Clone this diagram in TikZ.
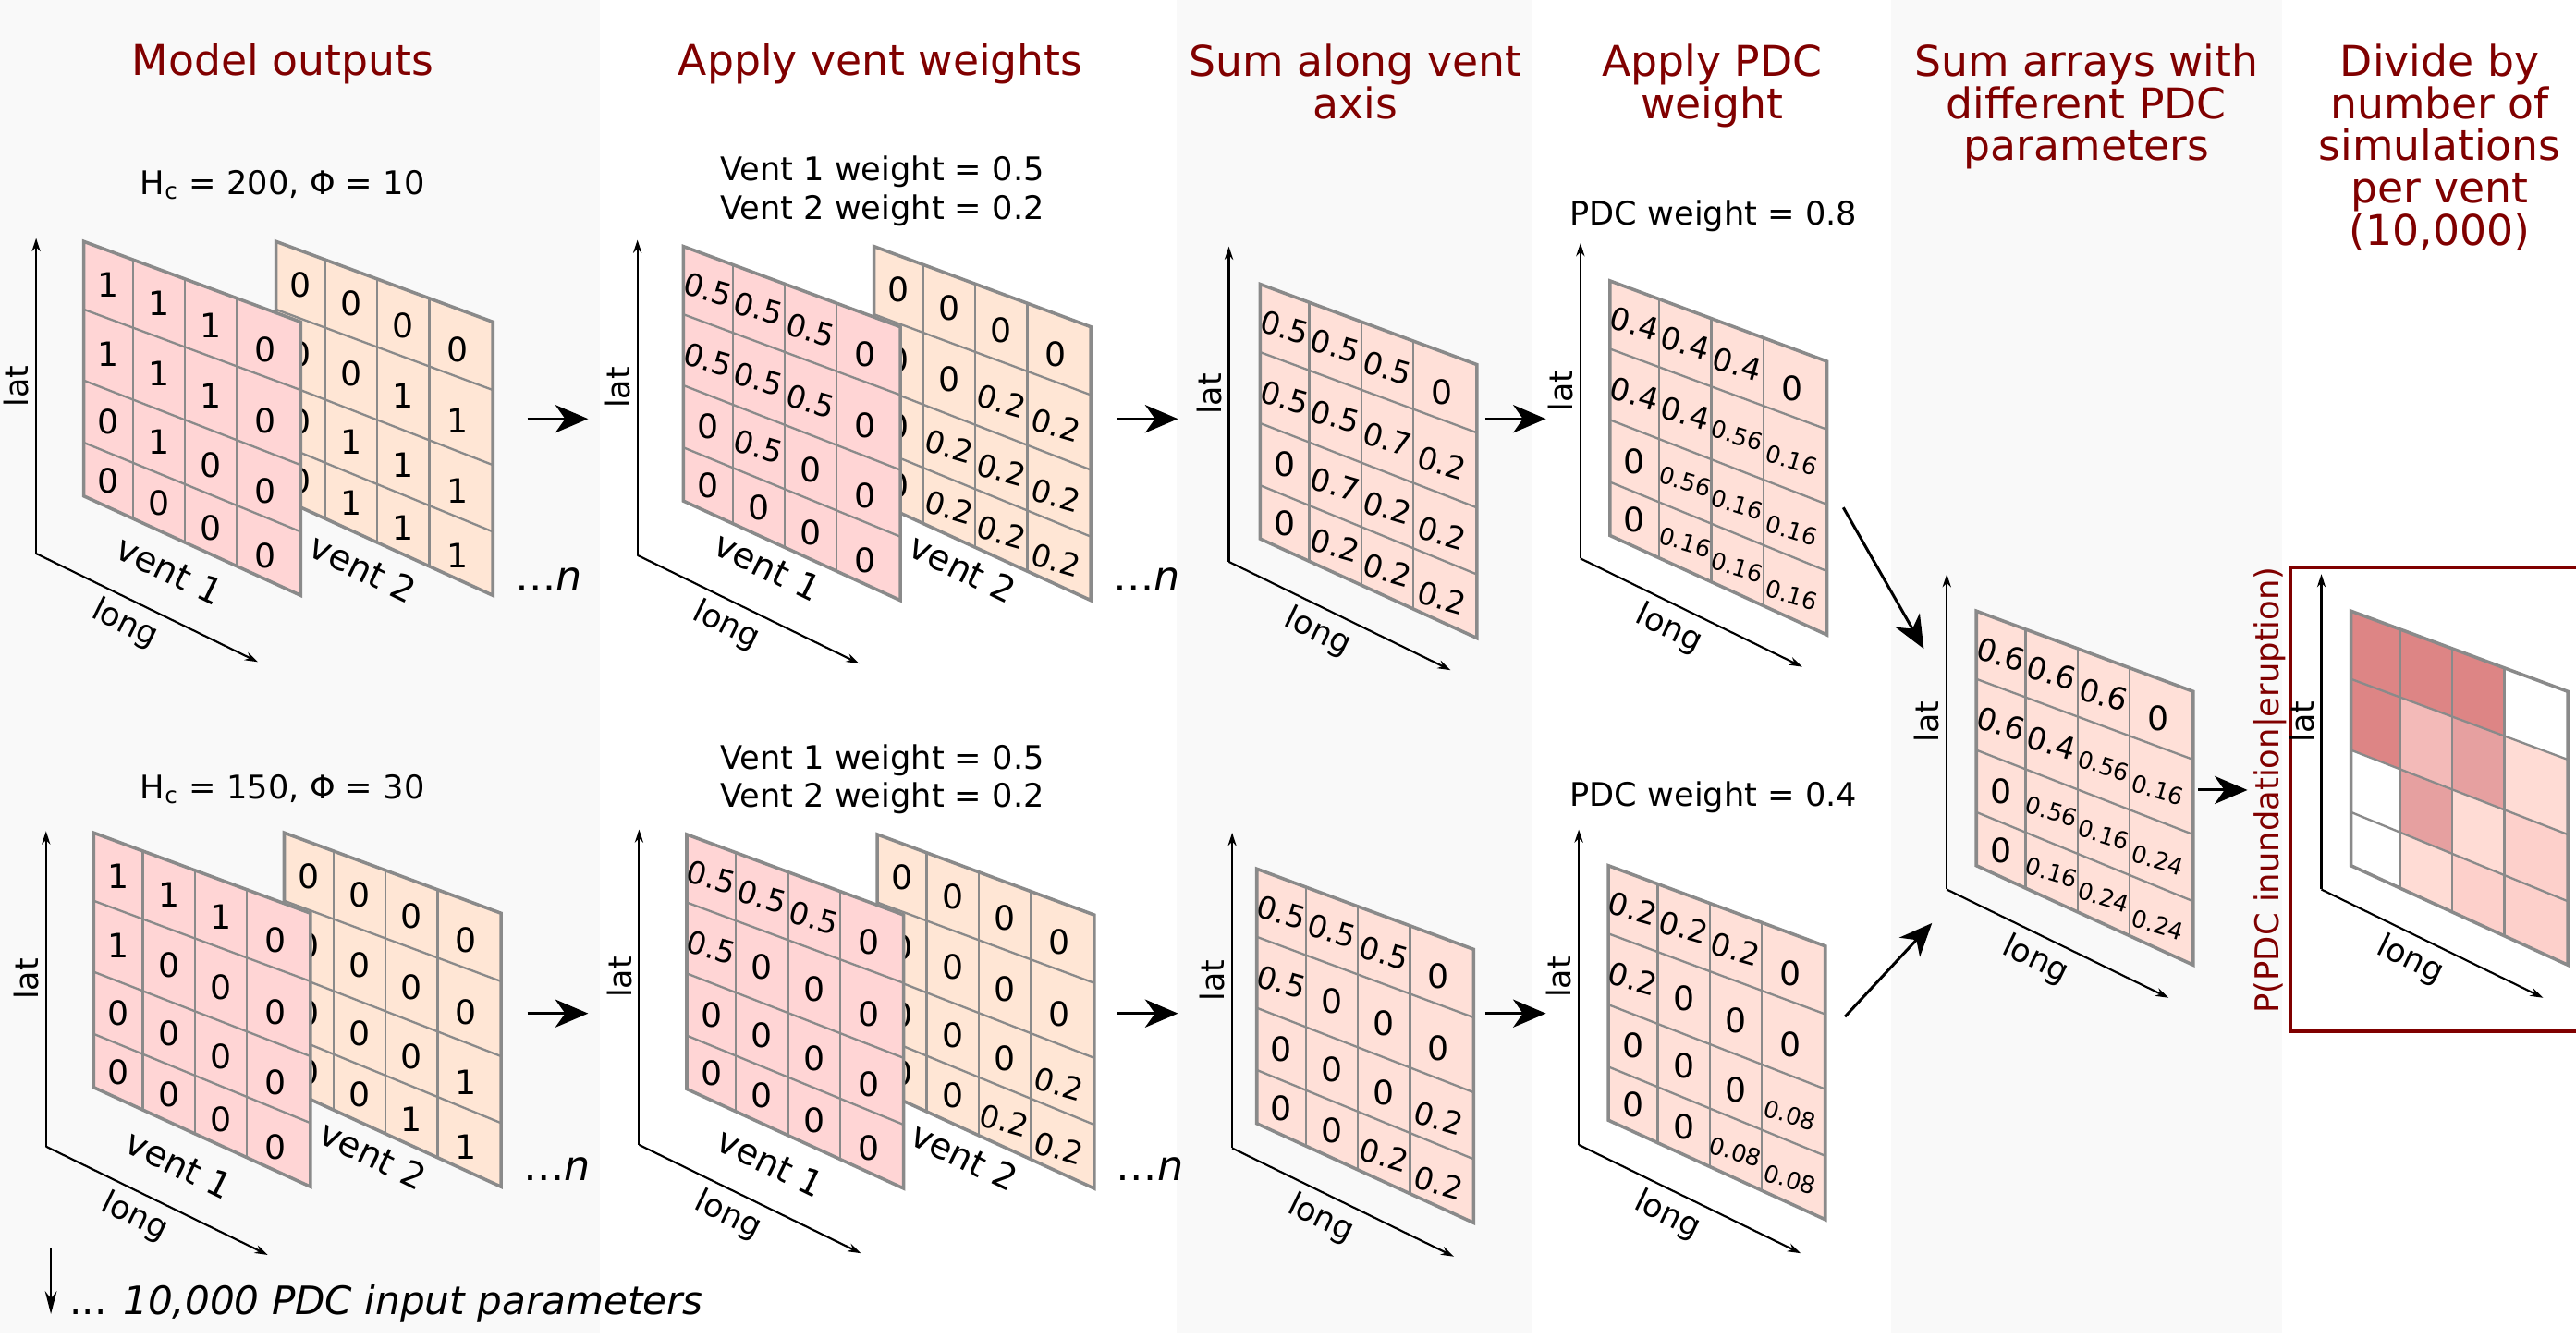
\documentclass[tikz,border=0pt]{standalone}
\usepackage{fontspec}
\setmainfont{DejaVu Sans}
\usetikzlibrary{calc}
\usetikzlibrary{arrows.meta}
\definecolor{darkred}{HTML}{800000}
\definecolor{gridgrey}{HTML}{8A8A8A}
\definecolor{bandgrey}{HTML}{F9F9F9}
\definecolor{ventone}{HTML}{FFD5D5}
\definecolor{venttwo}{HTML}{FFE6D5}
\definecolor{summed}{HTML}{FFE0D8}
\definecolor{heavy}{HTML}{DD8585}
\definecolor{mid}{HTML}{E6A0A0}
\definecolor{pale}{HTML}{F3BAB8}
\definecolor{faint}{HTML}{FDD0CB}
\definecolor{faintest}{HTML}{FFDCD5}
\tikzstyle{title} = [text=darkred, font=\fontsize{12.85}{12.85}\selectfont, align=center, inner sep=0]
\tikzstyle{note} = [font=\fontsize{9.9}{11.7}\selectfont, align=center, inner sep=0]
\tikzstyle{celli} = [font=\fontsize{10.2}{11}\selectfont, inner sep=0]
\tikzstyle{cellb} = [font=\fontsize{9.4}{10}\selectfont, inner sep=0, rotate=-16]
\tikzstyle{cellm} = [font=\fontsize{7.2}{8}\selectfont, inner sep=0, rotate=-17]
\tikzstyle{gridline} = [gridgrey, line width=0.65pt]
\tikzstyle{gridframe} = [gridgrey, line width=1pt, line join=miter]
\tikzstyle{axis} = [line width=0.6pt, -{Stealth[length=4pt,width=2.6pt]}]
\tikzstyle{step arrow} = [line width=0.85pt, -{Stealth[length=10pt,width=8.5pt,inset=3pt]}]
\tikzstyle{lat label} = [font=\fontsize{9.8}{10}\selectfont, rotate=90, inner sep=0]
\tikzstyle{long label} = [font=\fontsize{9.8}{10}\selectfont, inner sep=0, rotate=-26]
\tikzstyle{vent label} = [font=\fontsize{10.8}{11}\selectfont, inner sep=0, rotate=-26]
\tikzstyle{more} = [font=\fontsize{12.5}{13}\selectfont, inner sep=0]

\newcommand{\gridpoints}[3]{
	\foreach \col/\fu in {0/0,1/.227,2/.467,3/.707,4/1}
		\foreach \row/\fl/\fr in {0/0/0,1/.267/.249,2/.546/.523,3/.79/.767,4/1/1}
			\coordinate (#1-\row-\col) at ({#2+132*\fu},{#3+49*\fu+(1-\fu)*155*\fl+\fu*166.5*\fr});
}
\newcommand{\gridlines}[1]{
	\foreach \col in {1,2,3}
		\draw[gridline] (#1-0-\col) -- (#1-4-\col);
	\foreach \row in {1,2,3}
		\draw[gridline] (#1-\row-0) -- (#1-\row-4);
	\draw[gridframe] (#1-0-0) -- (#1-0-4) -- (#1-4-4) -- (#1-4-0) -- cycle;
}
\newcommand{\arraygrid}[5]{
	\gridpoints{#1}{#2}{#3}
	\fill[#4] (#1-0-0) -- (#1-0-4) -- (#1-4-4) -- (#1-4-0) -- cycle;
	\gridlines{#1}
	\foreach \k/\v [count=\i from 0] in {#5} {
		\pgfmathtruncatemacro{\row}{int(\i/4)}
		\pgfmathtruncatemacro{\col}{mod(\i,4)}
		\pgfmathtruncatemacro{\nrow}{\row+1}
		\pgfmathtruncatemacro{\ncol}{\col+1}
		\pgfmathsetmacro{\dx}{\col==3 ? -2 : 0}
		\pgfmathsetmacro{\dy}{\col==3 ? 3 : (\col==2 ? 1.5 : 0)}
		\node[cell\k] (#1-v\row\col) at ($(#1-\row-\col)!0.5!(#1-\nrow-\ncol)+(\dx,\dy)$) {\v};
	}
}
\newcommand{\axes}[3]{
	\coordinate (#1-o) at (#2,#3);
	\coordinate (#1-t) at (#2,{#3-192});
	\coordinate (#1-e) at ({#2+135},{#3+66});
	\draw[axis] (#1-o) -- (#1-t);
	\draw[axis] (#1-o) -- (#1-e);
	\node[lat label] (#1-lat) at ({#2-12},{#3-102}) {lat};
	\node[long label] (#1-long) at ({#2+54},{#3+43}) {long};
}

\begin{document}
\begin{tikzpicture}[x=0.5pt,y=-0.5pt]
	\path[use as bounding box, fill=white] (0,0) rectangle (1568,814.66);
	\foreach \xa/\xb in {0/365,716/933,1151/1389}
		\fill[bandgrey] (\xa,0) rectangle (\xb,811);

	\node[title] (t1) at (172,39) {Model outputs};
	\node[title] (t2) at (536,39) {Apply vent weights};
	\node[title, anchor=north] (t3) at (825,26.5) {Sum along vent\\axis};
	\node[title, anchor=north] (t4) at (1042,26.5) {Apply PDC\\weight};
	\node[title, anchor=north] (t5) at (1270,26.5) {Sum arrays with\\different PDC\\parameters};
	\node[title, anchor=north] (t6) at (1485,26.5) {Divide by\\number of\\simulations\\per vent\\(10,000)};

	\node[note] (hc1) at (172,112.5) {H\textsubscript{c} = 200, Φ = 10};
	\node[note] (hc2) at (172,480.5) {H\textsubscript{c} = 150, Φ = 30};
	\node[note] (w1) at (537,116.5) {Vent 1 weight = 0.5\\Vent 2 weight = 0.2};
	\node[note] (w2) at (537,474.5) {Vent 1 weight = 0.5\\Vent 2 weight = 0.2};
	\node[note] (p1) at (1043,131.5) {PDC weight = 0.8};
	\node[note] (p2) at (1043,485.5) {PDC weight = 0.4};

	\axes{a1}{22}{337}
	\axes{a2}{388}{338}
	\axes{a3}{748}{342}
	\axes{a4}{962}{340}
	\axes{a5}{28}{698}
	\axes{a6}{389}{697}
	\axes{a7}{750}{699}
	\axes{a8}{961}{697}
	\axes{a9}{1185}{541.5}

	\arraygrid{g2}{168}{147}{fill=venttwo}{i/0,i/0,i/0,i/0,i/0,i/0,i/1,i/1,i/0,i/1,i/1,i/1,i/0,i/1,i/1,i/1}
	\arraygrid{g1}{51}{147}{fill=ventone}{i/1,i/1,i/1,i/0,i/1,i/1,i/1,i/0,i/0,i/1,i/0,i/0,i/0,i/0,i/0,i/0}
	\arraygrid{g4}{532}{150}{fill=venttwo}{i/0,i/0,i/0,i/0,i/0,i/0,b/0.2,b/0.2,i/0,b/0.2,b/0.2,b/0.2,i/0,b/0.2,b/0.2,b/0.2}
	\arraygrid{g3}{416}{150}{fill=ventone}{b/0.5,b/0.5,b/0.5,i/0,b/0.5,b/0.5,b/0.5,i/0,i/0,b/0.5,i/0,i/0,i/0,i/0,i/0,i/0}
	\arraygrid{g5}{767}{173}{fill=summed}{b/0.5,b/0.5,b/0.5,i/0,b/0.5,b/0.5,b/0.7,b/0.2,i/0,b/0.7,b/0.2,b/0.2,i/0,b/0.2,b/0.2,b/0.2}
	\arraygrid{g6}{980}{171}{fill=summed}{b/0.4,b/0.4,b/0.4,i/0,b/0.4,b/0.4,m/0.56,m/0.16,i/0,m/0.56,m/0.16,m/0.16,i/0,m/0.16,m/0.16,m/0.16}

	\arraygrid{g8}{173}{507}{fill=venttwo}{i/0,i/0,i/0,i/0,i/0,i/0,i/0,i/0,i/0,i/0,i/0,i/1,i/0,i/0,i/1,i/1}
	\arraygrid{g7}{57}{507}{fill=ventone}{i/1,i/1,i/1,i/0,i/1,i/0,i/0,i/0,i/0,i/0,i/0,i/0,i/0,i/0,i/0,i/0}
	\arraygrid{g10}{534}{508}{fill=venttwo}{i/0,i/0,i/0,i/0,i/0,i/0,i/0,i/0,i/0,i/0,i/0,b/0.2,i/0,i/0,b/0.2,b/0.2}
	\arraygrid{g9}{418}{508}{fill=ventone}{b/0.5,b/0.5,b/0.5,i/0,b/0.5,i/0,i/0,i/0,i/0,i/0,i/0,i/0,i/0,i/0,i/0,i/0}
	\arraygrid{g11}{765}{529}{fill=summed}{b/0.5,b/0.5,b/0.5,i/0,b/0.5,i/0,i/0,i/0,i/0,i/0,i/0,b/0.2,i/0,i/0,b/0.2,b/0.2}
	\arraygrid{g12}{979}{527}{fill=summed}{b/0.2,b/0.2,b/0.2,i/0,b/0.2,i/0,i/0,i/0,i/0,i/0,i/0,m/0.08,i/0,i/0,m/0.08,m/0.08}

	\arraygrid{g13}{1203}{372}{fill=summed}{b/0.6,b/0.6,b/0.6,i/0,b/0.6,b/0.4,m/0.56,m/0.16,i/0,m/0.56,m/0.16,m/0.24,i/0,m/0.16,m/0.24,m/0.24}

	\node[vent label] (v1) at (103,347) {vent 1};
	\node[vent label] (v2) at (221,346) {vent 2};
	\node[vent label] (v3) at (467,345) {vent 1};
	\node[vent label] (v4) at (586,346) {vent 2};
	\node[vent label] (v5) at (109,709) {vent 1};
	\node[vent label] (v6) at (227,703) {vent 2};
	\node[vent label] (v7) at (469,708) {vent 1};
	\node[vent label] (v8) at (587,704) {vent 2};

	\node[more] (n1) at (334,353) {…\textit{n}};
	\node[more] (n2) at (698,353) {…\textit{n}};
	\node[more] (n3) at (339,712) {…\textit{n}};
	\node[more] (n4) at (700,712) {…\textit{n}};

	\foreach \i/\xa/\xb/\ya in {1/321/358/255,2/680/717/255,3/904/941/255,4/321/358/617,5/680/717/617,6/904/941/617} {
		\coordinate (s\i) at (\xa,\ya);
		\coordinate (e\i) at (\xb,\ya);
		\draw[step arrow] (s\i) -- (e\i);
	}
	\coordinate (d1s) at (1122,309);
	\coordinate (d1e) at (1171,395);
	\coordinate (d2s) at (1123,619);
	\coordinate (d2e) at (1176,562);
	\coordinate (r1s) at (1338,481);
	\coordinate (r1e) at (1368,481);
	\draw[step arrow] (d1s) -- (d1e);
	\draw[step arrow] (d2s) -- (d2e);
	\draw[step arrow] (r1s) -- (r1e);

	\node[draw=darkred, line width=1pt, minimum width=174pt, minimum height=141.2pt, anchor=north west, inner sep=0] (box) at (1393,344.5) {};
	\axes{a10}{1413}{541.5}
	\gridpoints{g14}{1431}{372}
	\foreach \shade [count=\i from 0] in {heavy,heavy,heavy,white,heavy,pale,mid,faintest,white,mid,faintest,faint,white,faintest,faint,faint} {
		\pgfmathtruncatemacro{\row}{int(\i/4)}
		\pgfmathtruncatemacro{\col}{mod(\i,4)}
		\pgfmathtruncatemacro{\nrow}{\row+1}
		\pgfmathtruncatemacro{\ncol}{\col+1}
		\fill[\shade] (g14-\row-\col) -- (g14-\row-\ncol) -- (g14-\nrow-\ncol) -- (g14-\nrow-\col) -- cycle;
	}
	\gridlines{g14}
	\node[text=darkred, font=\fontsize{9.95}{11}\selectfont, rotate=90, inner sep=0] (pl) at (1382,481) {P(PDC inundation|eruption)};

	\coordinate (ds) at (31,760);
	\coordinate (de) at (31,800);
	\draw[line width=0.65pt, -{Stealth[length=7pt,width=3.6pt]}] (ds) -- (de);
	\node[font=\fontsize{11.85}{13}\selectfont, anchor=west, inner sep=0] (more) at (42,794) {... \textit{10,000 PDC input parameters}};
\end{tikzpicture}
\end{document}
